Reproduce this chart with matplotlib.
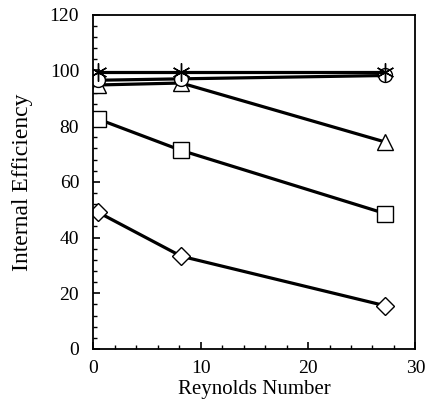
import matplotlib
matplotlib.use("Agg")
import matplotlib.pyplot as plt
from matplotlib.ticker import MultipleLocator

reynolds = [0.5, 8.2, 27.2]
eff_star = [99.5, 99.5, 99.5]
eff_circle = [96.5, 97.0, 98.2]
eff_triangle = [94.8, 95.5, 74.3]
eff_square = [82.5, 71.3, 48.6]
eff_diamond = [49.0, 33.3, 15.5]

plt.rcParams['font.family'] = ['Liberation Serif', 'DejaVu Serif']

fig = plt.figure(figsize=(4.27, 4.11), dpi=100)
ax = fig.add_axes([0.218, 0.151, 0.755, 0.813])

lw = 2.3
style = dict(color='black', lw=lw, mfc='white', mec='black', mew=1.0)
ax.plot(reynolds, eff_diamond, marker='D', ms=9, **style)
ax.plot(reynolds, eff_square, marker='s', ms=12, **style)
ax.plot(reynolds, eff_triangle, marker='^', ms=11, **style)
ax.plot(reynolds, eff_circle, marker='o', ms=10, **style)
ax.plot(reynolds, eff_star, color='black', lw=lw)
ax.plot(reynolds, eff_star, ls='none', marker=(6, 2, 0), ms=13, mec='black', mew=1.0)

ax.set_xlim(0, 30)
ax.set_ylim(0, 120)
ax.xaxis.set_major_locator(MultipleLocator(10))
ax.xaxis.set_minor_locator(MultipleLocator(2))
ax.yaxis.set_major_locator(MultipleLocator(20))
ax.yaxis.set_minor_locator(MultipleLocator(4))
ax.tick_params(which='both', direction='in', top=False, right=False, labelsize=14)
ax.tick_params(which='major', length=5, width=1.2)
ax.tick_params(axis='y', which='major', pad=10)
ax.tick_params(axis='x', which='major', pad=8)
ax.tick_params(which='minor', length=3, width=1.0)
for s in ax.spines.values():
    s.set_linewidth(1.3)

ax.set_xlabel('Reynolds Number', fontsize=15, labelpad=2)
ax.set_ylabel('Internal Efficiency', fontsize=17, labelpad=12)

fig.savefig('out.png', dpi=100)
